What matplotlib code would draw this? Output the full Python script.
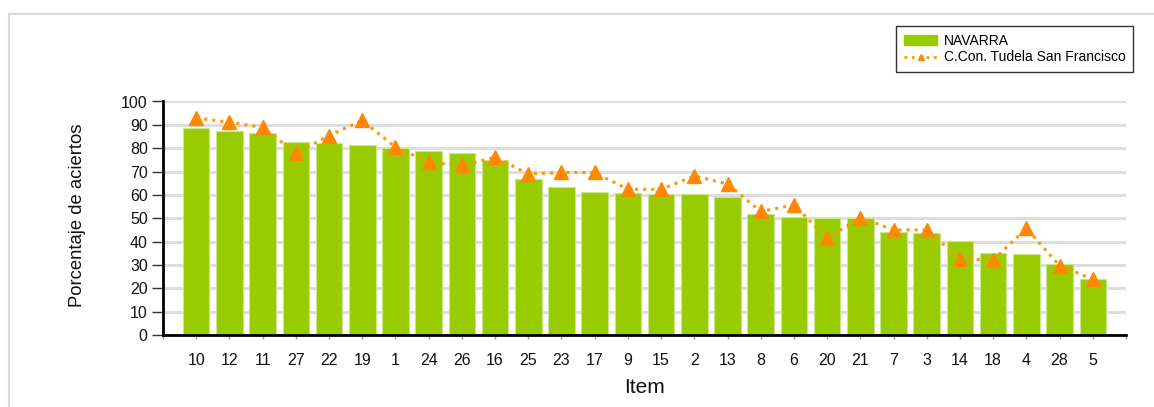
import matplotlib
matplotlib.use("Agg")
import matplotlib.pyplot as plt
from matplotlib.lines import Line2D
from matplotlib.patches import Patch, Rectangle

plt.rcParams['font.family'] = ['Liberation Sans', 'DejaVu Sans']

items = ['10', '12', '11', '27', '22', '19', '1', '24', '26', '16', '25', '23', '17', '9',
         '15', '2', '13', '8', '6', '20', '21', '7', '3', '14', '18', '4', '28', '5']
navarra = [88.7, 87.2, 86.6, 82.8, 82.1, 81.4, 79.9, 78.9, 78.0, 75.1, 66.6, 63.3, 61.3, 60.7,
           60.3, 60.3, 58.9, 51.7, 50.4, 50.3, 50.0, 44.0, 43.6, 40.1, 35.0, 34.9, 30.3, 24.1]
centro = [93.0, 91.1, 88.9, 77.9, 85.4, 91.9, 80.4, 74.0, 72.6, 76.1, 69.0, 69.6, 69.6, 62.4,
          62.4, 68.1, 64.7, 52.9, 55.7, 41.4, 50.3, 45.0, 45.0, 32.6, 32.1, 45.7, 29.7, 23.9]
series_names = ['NAVARRA', 'C.Con. Tudela San Francisco']
yticks = list(range(0, 101, 10))

W, H = 1154, 407
fig = plt.figure(figsize=(W / 100, H / 100), dpi=100)

# light grey outer frame (top and left visible)
fig.patches.append(Rectangle((9 / W, -0.1), 1.2, (H - 14) / H + 0.1, transform=fig.transFigure,
                             fill=False, edgecolor='#d9d9d9', linewidth=1.6, zorder=0))

ax = fig.add_axes([163 / W, (H - 335) / H, (1126 - 163) / W, (335 - 101.5) / H])

x = list(range(len(items)))
ax.bar(x, navarra, width=0.8, color='#99cc00', edgecolor='#c8e68a', linewidth=0.8, zorder=2)
ax.plot(x, centro, linestyle=':', color='#ff9900', linewidth=2.2, marker='^',
        markersize=10, markerfacecolor='#ff8800', markeredgecolor='#ff8800', zorder=3)

ax.set_xlim(-1, len(items))
ax.set_ylim(0, 100)
ax.set_yticks(yticks)
ax.set_yticklabels([str(v) for v in yticks], fontsize=11.5)
ax.set_xticks([-1] + x + [len(items)])
ax.set_xticklabels([''] + items + [''], fontsize=11.5)

ax.grid(axis='y', color='#dedede', linewidth=2.2, zorder=0)
ax.set_axisbelow(True)
for s in ['top', 'right']:
    ax.spines[s].set_visible(False)
for s in ['left', 'bottom']:
    ax.spines[s].set_linewidth(2.0)
    ax.spines[s].set_color('black')
    ax.spines[s].set_zorder(4)

ax.tick_params(axis='y', length=8, width=1, color='#333333', pad=3, labelcolor='#111111')
ax.tick_params(axis='x', length=3, width=1, color='#999999', pad=10, labelcolor='#111111')

fig.text(78 / W, 1 - 215 / H, 'Porcentaje de aciertos', rotation=90, ha='center', va='center',
         fontsize=13.3, color='#111111')
fig.text(645 / W, 1 - 393 / H, 'Item', ha='center', va='baseline', fontsize=15, color='#111111')

handles = [Patch(facecolor='#99cc00', edgecolor='#99cc00'),
           Line2D([0], [0], linestyle=':', color='#ff9900', linewidth=2, marker='^', markersize=4,
                  markerfacecolor='#ff8800', markeredgecolor='#ff8800')]
leg = fig.legend(handles, series_names, loc='upper right',
                 bbox_to_anchor=(1133 / W, 1 - 26 / H), fontsize=10, frameon=True,
                 fancybox=False, edgecolor='black', borderpad=0.55, handlelength=2.4,
                 handletextpad=0.45, labelspacing=0.2, borderaxespad=0)
leg.get_frame().set_linewidth(1.0)

fig.savefig('out.png', dpi=100)
